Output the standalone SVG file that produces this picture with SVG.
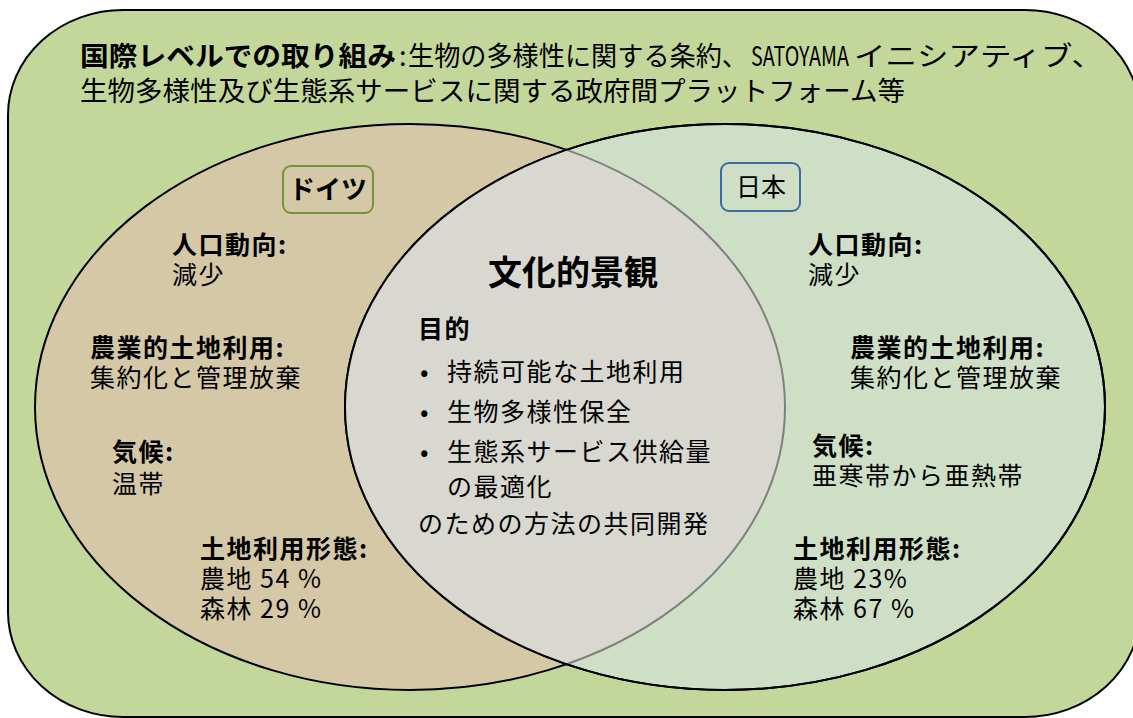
<svg xmlns="http://www.w3.org/2000/svg" width="1133" height="718" viewBox="0 0 1133 718">
<style>
text{font-family:"Noto Sans CJK JP","Noto Sans",sans-serif;fill:#000;}
.t{font-size:25px;letter-spacing:1.5px;}
.b{font-weight:bold;}
.title{font-size:27px;}
</style>
<defs>
<clipPath id="clipL"><ellipse cx="410" cy="407" rx="375" ry="283"/></clipPath>
<clipPath id="clipR"><ellipse cx="725" cy="407" rx="380" ry="283"/></clipPath>
</defs>
<rect width="1133" height="718" fill="#ffffff"/>
<g id="outer">
<rect x="8" y="10" width="1132" height="707" rx="115" ry="105" fill="#c4d79b" stroke="#000" stroke-width="2"/>
<text class="title b" x="80" y="66" textLength="316" lengthAdjust="spacingAndGlyphs">国際レベルでの取り組み</text>
<text class="title" x="399" y="66">:</text>
<text class="title" x="408" y="66" textLength="340" lengthAdjust="spacingAndGlyphs">生物の多様性に関する条約、</text>
<text class="title" x="751" y="66" textLength="98" lengthAdjust="spacingAndGlyphs">SATOYAMA</text>
<text class="title" x="854" y="66" textLength="249" lengthAdjust="spacingAndGlyphs">イニシアティブ、</text>
<text class="title" x="80" y="101" textLength="825" lengthAdjust="spacingAndGlyphs">生物多様性及び生態系サービスに関する政府間プラットフォーム等</text>
</g>
<g id="germany">
<ellipse cx="410" cy="407" rx="375" ry="283" fill="#d5c8a7" stroke="#000" stroke-width="2"/>
</g>
<g id="japan">
<ellipse cx="725" cy="407" rx="380" ry="283" fill="#cfdfc6" stroke="#000" stroke-width="2"/>
</g>
<g id="lens">
<ellipse cx="725" cy="407" rx="380" ry="283" fill="#d8d8d0" clip-path="url(#clipL)"/>
<ellipse cx="410" cy="407" rx="375" ry="283" fill="none" stroke="#808080" stroke-width="2" clip-path="url(#clipR)"/>
<ellipse cx="725" cy="407" rx="380" ry="283" fill="none" stroke="#000" stroke-width="2"/>
</g>
<g id="label-germany">
<rect x="283" y="166" width="90" height="47" rx="8" ry="8" fill="none" stroke="#77933c" stroke-width="2"/>
<text x="328" y="199" font-size="26" font-weight="bold" text-anchor="middle">ドイツ</text>
</g>
<g id="label-japan">
<rect x="721" y="163" width="79" height="48" rx="8" ry="8" fill="none" stroke="#3f6aa3" stroke-width="2"/>
<text x="761" y="196" font-size="25" text-anchor="middle">日本</text>
</g>
<g id="germany-text">
<text class="t b" x="172" y="254">人口動向:</text>
<text class="t" x="172" y="284">減少</text>
<text class="t b" x="90" y="357">農業的土地利用:</text>
<text class="t" x="90" y="387">集約化と管理放棄</text>
<text class="t b" x="112" y="461">気候:</text>
<text class="t" x="112" y="493">温帯</text>
<text class="t b" x="200" y="558">土地利用形態:</text>
<text class="t" x="200" y="588">農地 54 %</text>
<text class="t" x="200" y="618">森林 29 %</text>
</g>
<g id="japan-text">
<text class="t b" x="808" y="254">人口動向:</text>
<text class="t" x="808" y="284">減少</text>
<text class="t b" x="850" y="357">農業的土地利用:</text>
<text class="t" x="850" y="387">集約化と管理放棄</text>
<text class="t b" x="812" y="455">気候:</text>
<text class="t" x="812" y="485">亜寒帯から亜熱帯</text>
<text class="t b" x="793" y="558">土地利用形態:</text>
<text class="t" x="793" y="588">農地 23%</text>
<text class="t" x="793" y="618">森林 67 %</text>
</g>
<g id="center-text">
<text x="573" y="285" font-size="34" font-weight="bold" text-anchor="middle">文化的景観</text>
<text class="t b" x="418" y="338">目的</text>
<text class="t" x="420" y="381">•</text>
<text class="t" x="447" y="381">持続可能な土地利用</text>
<text class="t" x="420" y="421">•</text>
<text class="t" x="447" y="421">生物多様性保全</text>
<text class="t" x="420" y="461">•</text>
<text class="t" x="447" y="461">生態系サービス供給量</text>
<text class="t" x="447" y="496">の最適化</text>
<text class="t" x="418" y="533">のための方法の共同開発</text>
</g>
</svg>
